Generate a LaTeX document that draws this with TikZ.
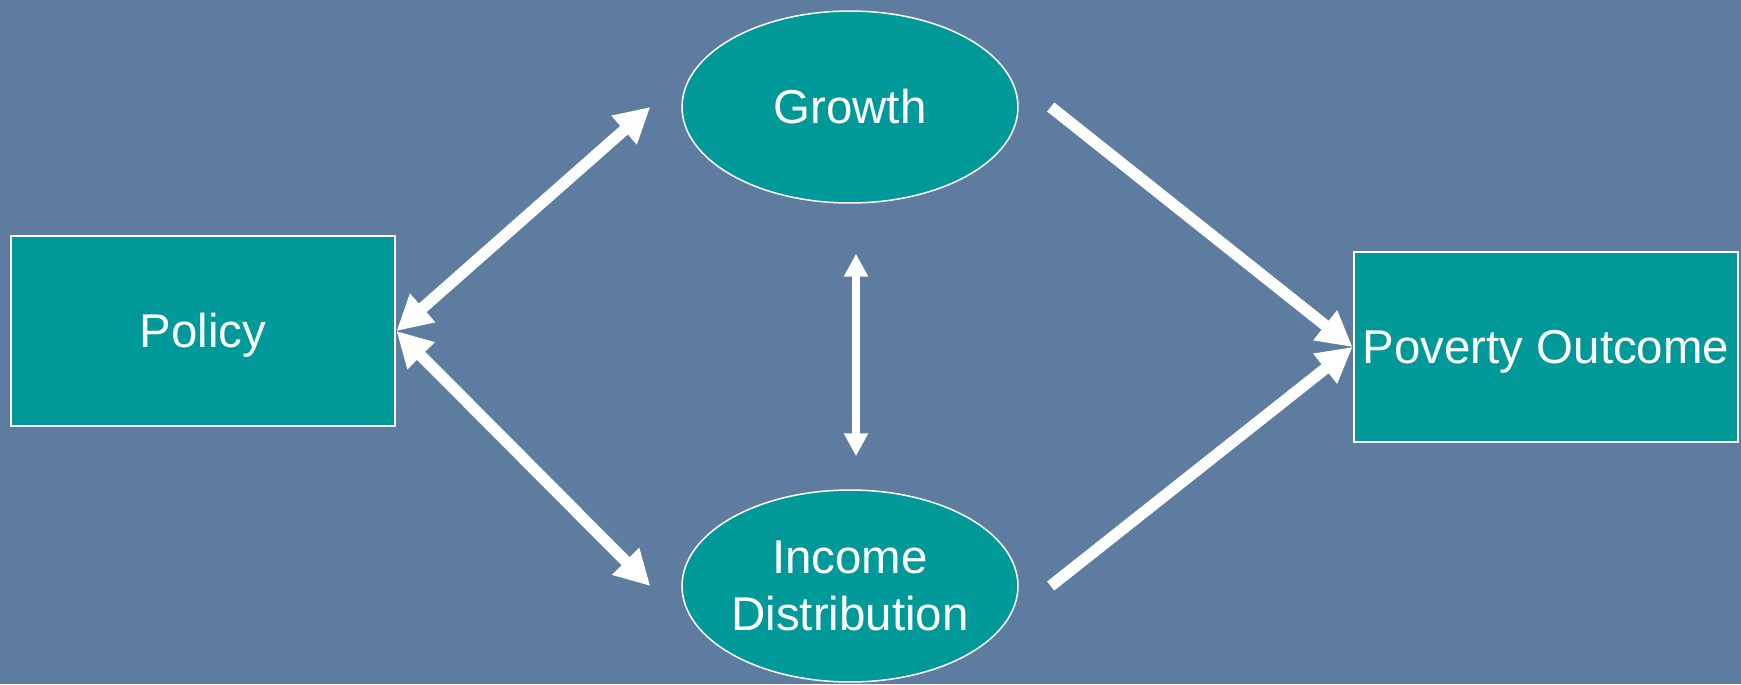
\documentclass[tikz,border=0pt]{standalone}
\usepackage{fontspec}
\setmainfont{Liberation Sans}
\usetikzlibrary{shapes.geometric,arrows.meta}
\definecolor{bgblue}{RGB}{93,124,160}
\definecolor{teal}{RGB}{0,153,153}
\begin{document}
\begin{tikzpicture}[x=0.02cm,y=-0.02cm,
    box/.style={draw=white,line width=0.04cm,fill=teal,text=white,inner sep=0pt,
      font=\fontsize{27}{32}\selectfont,align=center},
    oneline/.style={text height=0.9cm,text depth=0.24cm},
    rect/.style={box,oneline,rectangle,minimum width=7.7cm,minimum height=3.82cm},
    oval/.style={box,ellipse,line width=0.03cm,minimum width=6.72cm,minimum height=3.84cm},
    fat/.style={white,line width=0.23cm,-{Triangle[width=0.72cm,length=0.7cm]}},
    fatboth/.style={white,line width=0.23cm,{Triangle[width=0.72cm,length=0.7cm]}-{Triangle[width=0.72cm,length=0.7cm]}},
    slim/.style={white,line width=0.16cm,{Triangle[width=0.46cm,length=0.46cm]}-{Triangle[width=0.46cm,length=0.46cm]}}]
      \fill[bgblue] (0,0) rectangle (1741,684);
      \useasboundingbox (0,0) rectangle (1741,684);
      \node[rect] (policy) at (203,331) {Policy};
      \node[oval,oneline] (growth) at (850,107) {Growth};
      \node[oval] (income) at (850,586) {Income\\Distribution};
      \node[rect] (poverty) at (1546,347) {Poverty Outcome};
      \draw[fatboth] (policy.east) -- ([xshift=-0.62cm]growth.west);
      \draw[fatboth] (policy.east) -- ([xshift=-0.62cm]income.west);
      \draw[fat] ([xshift=0.64cm]growth.east) -- (poverty.west);
      \draw[fat] ([xshift=0.64cm]income.east) -- (poverty.west);
      \draw[slim] ([xshift=0.12cm,yshift=-1cm]growth.south) -- ([xshift=0.12cm,yshift=0.66cm]income.north);
    \end{tikzpicture}
\end{document}
